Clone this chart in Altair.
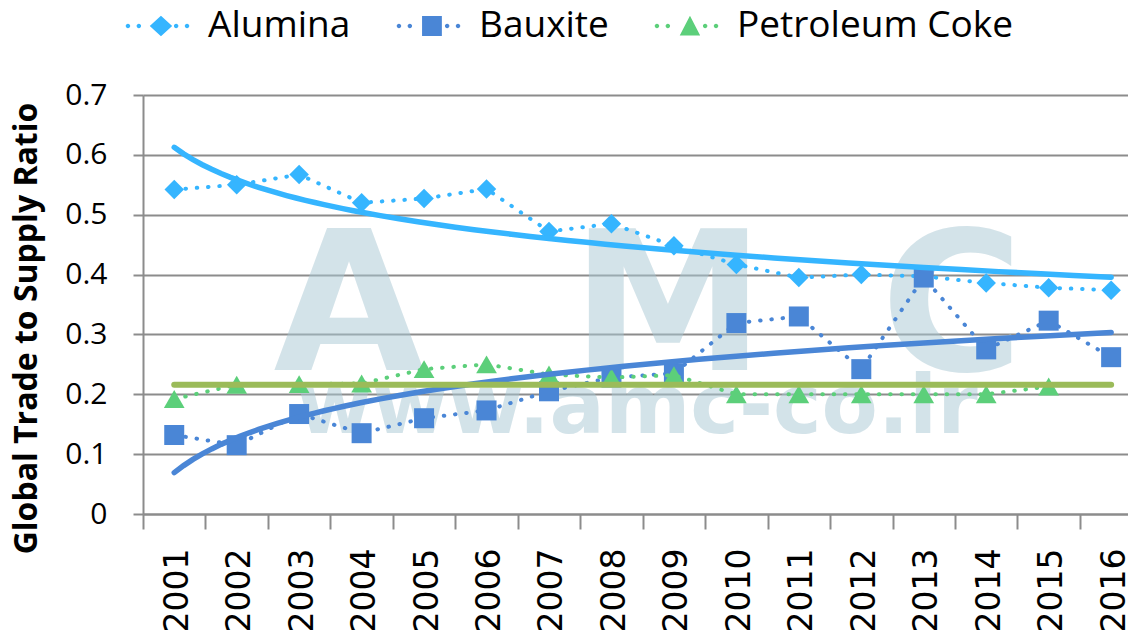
import altair as alt
import pandas as pd

# ---- data ----
years = [str(y) for y in range(2001, 2017)]
series_names = ["Alumina", "Bauxite", "Petroleum Coke"]
alumina = [0.542, 0.550, 0.567, 0.520, 0.527, 0.543, 0.472, 0.485,
           0.448, 0.417, 0.395, 0.400, 0.397, 0.386, 0.378, 0.374]
bauxite = [0.132, 0.115, 0.167, 0.135, 0.160, 0.173, 0.205, 0.228,
           0.235, 0.319, 0.330, 0.242, 0.395, 0.275, 0.323, 0.262]
petcoke = [0.192, 0.216, 0.217, 0.218, 0.242, 0.250, 0.233, 0.228,
           0.232, 0.200, 0.200, 0.200, 0.200, 0.200, 0.213]
y_ticks = [0, 0.1, 0.2, 0.3, 0.4, 0.5, 0.6, 0.7]
watermark_big = ["A", "M", "C"]
watermark_url = "www.amc-co.ir"

rows = []
for name, vals in zip(series_names, [alumina, bauxite, petcoke]):
    for i, v in enumerate(vals):
        rows.append({"idx": i + 1, "year": years[i], "series": name, "value": v})
df = pd.DataFrame(rows)
one_row = pd.DataFrame({"k": [1]})

# ---- styles ----
colors = ["#35B5FF", "#4A86D6", "#5CCF7A"]
trend_colors = ["#35B5FF", "#4A86D6", "#9BBB59"]
shapes = ["diamond", "square", "triangle-up"]
sizes = [380, 400, 430]
grid_gray = "#8C8C8C"
band = 985 / 15.77  # pixels per year

label_expr = "[" + ",".join(f"'{y}'" for y in years) + "][datum.value - 1]"

X = alt.X(
    "idx:Q",
    scale=alt.Scale(domain=[0.5, 16.27], nice=False, zero=False),
    axis=alt.Axis(
        values=list(range(1, len(years) + 1)), labelExpr=label_expr,
        labelAngle=270, labelAlign="right", labelBaseline="middle",
        labelFont="DejaVu Sans", labelFontSize=33, labelColor="#000000",
        labelPadding=19, labelOverlap=False, labelFlush=False, labelBound=False,
        tickSize=15, tickColor=grid_gray, tickWidth=2,
        tickOffset=-band / 2, labelOffset=band / 2 + 3,
        domainColor=grid_gray, domainWidth=2, grid=False, title=None,
    ),
)
Y = alt.Y(
    "value:Q",
    scale=alt.Scale(domain=[0, 0.7], nice=False),
    axis=alt.Axis(
        values=y_ticks, format=".1~f",
        labelFont="Open Sans", labelFontSize=30, labelColor="#000000",
        labelPadding=26, tickSize=10, tickColor=grid_gray, tickWidth=2,
        domainColor=grid_gray, domainWidth=2,
        grid=True, gridColor=grid_gray, gridWidth=2,
        title="Global Trade to Supply Ratio", titleFont="Open Sans",
        titleFontSize=32, titleFontWeight="bold", titleColor="#000000",
        titleAngle=270, titleAlign="center", titleBaseline="alphabetic",
        titleX=-107, titleY=233,
    ),
)

base = alt.Chart(df)
layers = []

# watermark (one datum each)
wm_color = "#A9C8D4"
for ch, px in zip(watermark_big, [206, 525, 809]):
    layers.append(
        alt.Chart(one_row).mark_text(text=ch, font="DejaVu Sans", fontWeight="bold",
                                     fontSize=195, color=wm_color, opacity=0.5,
                                     align="center", baseline="alphabetic")
        .encode(x=alt.value(px), y=alt.value(275))
    )
layers.append(
    alt.Chart(one_row).mark_text(text=watermark_url, font="DejaVu Sans", fontWeight="bold",
                                 fontSize=82, color=wm_color, opacity=0.5,
                                 align="center", baseline="alphabetic")
    .encode(x=alt.value(494), y=alt.value(338))
)

# series: dotted lines + markers
for name, col, shp, sz in zip(series_names, colors, shapes, sizes):
    s = base.transform_filter(alt.datum.series == name)
    layers.append(
        s.mark_line(color=col, strokeWidth=4, strokeDash=[0.5, 10.8], strokeCap="round")
        .encode(x=X, y=Y)
    )
    layers.append(
        s.mark_point(shape=shp, filled=True, size=sz, color=col, opacity=1)
        .encode(x=X, y=Y)
    )

# trendlines
for name, col in zip(series_names[:2], trend_colors[:2]):
    layers.append(
        base.transform_filter(alt.datum.series == name)
        .transform_regression("idx", "value", method="log")
        .mark_line(color=col, strokeWidth=5.5, strokeCap="round")
        .encode(x=X, y=Y)
    )
layers.append(
    base.transform_filter(alt.datum.series == series_names[2])
    .transform_aggregate(mean_v="mean(value)")
    .mark_rule(color=trend_colors[2], strokeWidth=6, strokeCap="round")
    .encode(x=alt.datum(1), x2=alt.datum(len(years)), y=alt.Y("mean_v:Q"))
)

# legend (custom symbols: dotted line + marker)
def fmt(v):
    return f"{v:.3f}".rstrip("0").rstrip(".")

def dots_path(r=0.068, xs=(-0.88, -0.55, 0.58, 0.91)):
    out = ""
    for cx in xs:
        out += (f"M{fmt(cx - r)},0a{fmt(r)},{fmt(r)} 0 1,0 {fmt(2 * r)},0"
                f"a{fmt(r)},{fmt(r)} 0 1,0 {fmt(-2 * r)},0Z")
    return out

mx = 0.12
leg_diamond = f"M{fmt(mx - 0.34)},0L{fmt(mx)},-0.31L{fmt(mx + 0.34)},0L{fmt(mx)},0.31Z"
leg_square = f"M{fmt(mx - 0.3)},-0.3L{fmt(mx + 0.3)},-0.3L{fmt(mx + 0.3)},0.3L{fmt(mx - 0.3)},0.3Z"
leg_triangle = f"M{fmt(mx)},-0.31L{fmt(mx + 0.31)},0.29L{fmt(mx - 0.31)},0.29Z"
legend_paths = [dots_path() + p for p in (leg_diamond, leg_square, leg_triangle)]

leg = alt.Legend(
    orient="none", legendX=-19, legendY=-102, direction="horizontal", title=None,
    labelFont="Open Sans", labelFontSize=37, labelColor="#000000", labelLimit=500,
    symbolSize=4356, labelOffset=18, columnPadding=44, symbolStrokeWidth=0,
    symbolOpacity=1,
)
layers.append(
    base.transform_filter("false")
    .mark_point(filled=True, opacity=1)
    .encode(
        color=alt.Color("series:N", scale=alt.Scale(domain=series_names, range=colors), legend=leg),
        shape=alt.Shape("series:N", scale=alt.Scale(domain=series_names, range=legend_paths), legend=leg),
    )
)

chart = (
    alt.layer(*layers)
    .properties(
        width=985, height=419,
        padding={"left": 135, "top": 87, "right": 0, "bottom": 121},
        autosize=alt.AutoSizeParams(type="none"),
        background="#FFFFFF",
    )
    .configure_view(stroke=None)
)

chart.save("out.html", embed_options={"renderer": "svg", "actions": False})
